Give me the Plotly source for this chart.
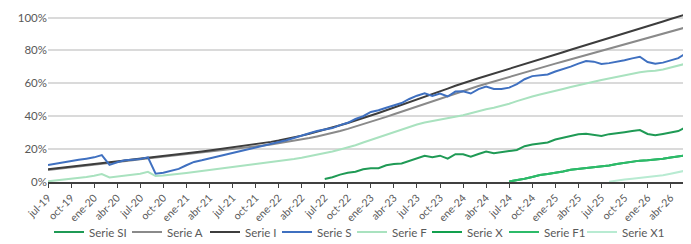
import plotly.graph_objects as go

# Monthly categories jul-19 .. jun-26
meses = ["ene", "feb", "mar", "abr", "may", "jun", "jul", "ago", "sep", "oct", "nov", "dic"]
months = []
y, m = 2019, 6
for _ in range(84):
    months.append(f"{meses[m]}-{str(y)[2:]}")
    m += 1
    if m == 12:
        m = 0
        y += 1
tick_labels = months[::3]

y_ticks = [0, 20, 40, 60, 80, 100]
y_tick_text = [f"{v}%" for v in y_ticks]

serie_i = [7.7, 8.2, 8.8, 9.3, 9.9, 10.4, 11.0, 11.5, 12.0, 12.6, 13.1, 13.7, 14.2, 14.8, 15.3, 15.9,
           16.4, 17.0, 17.5, 18.1, 18.6, 19.2, 19.8, 20.4, 21.0, 21.6, 22.2, 22.9, 23.6, 24.4, 25.2, 26.1,
           27.1, 28.2, 29.4, 30.6, 31.9, 33.2, 34.5, 35.9, 37.3, 38.8, 40.4, 42.0, 43.6, 45.2, 46.9, 48.5,
           50.2, 51.8, 53.5, 55.1, 56.8, 58.5, 60.2, 61.6, 63.1, 64.5, 66.0, 67.4, 68.8, 70.3, 71.7, 73.2,
           74.6, 76.0, 77.5, 78.9, 80.4, 81.8, 83.2, 84.7, 86.1, 87.6, 89.0, 90.4, 91.9, 93.3, 94.8, 96.2,
           97.6, 99.1, 100.5, 102.0]

serie_a = [7.3, 7.8, 8.4, 8.9, 9.4, 10.0, 10.5, 11.1, 11.6, 12.1, 12.7, 13.2, 13.8, 14.3, 14.8, 15.4,
           15.9, 16.4, 17.0, 17.5, 18.0, 18.5, 19.0, 19.5, 20.0, 20.5, 21.0, 21.6, 22.2, 22.8, 23.5, 24.2,
           25.0, 25.8, 26.7, 27.7, 28.7, 29.8, 31.0, 32.3, 33.7, 35.1, 36.6, 38.1, 39.6, 41.2, 42.8, 44.4,
           46.0, 47.6, 49.2, 50.8, 52.4, 54.0, 55.6, 57.0, 58.4, 59.8, 61.2, 62.6, 64.0, 65.4, 66.8, 68.1,
           69.4, 70.7, 72.0, 73.3, 74.6, 75.9, 77.2, 78.5, 79.8, 81.1, 82.4, 83.7, 85.0, 86.3, 87.6, 88.9,
           90.2, 91.5, 92.8, 94.1]

serie_s = [10.3, 11.2, 12.0, 12.8, 13.5, 14.2, 15.0, 16.4, 10.4, 12.0, 13.2, 13.6, 14.0, 15.0, 5.0, 5.6,
           6.6, 8.0, 10.2, 12.2, 13.2, 14.3, 15.3, 16.6, 17.6, 18.6, 19.6, 20.6, 21.8, 23.0, 24.2, 25.4,
           26.8, 28.0, 29.6, 31.0, 32.0, 32.8, 34.6, 36.0, 38.3, 40.0, 42.6, 43.6, 45.2, 46.5, 48.0, 50.5,
           52.5, 54.0, 52.3, 53.8, 52.0, 55.0, 55.2, 53.8, 56.5, 58.0, 56.6, 56.6, 57.4, 59.5, 62.5, 64.4,
           65.0, 65.4, 67.2, 68.5, 70.2, 72.0, 73.6, 73.2, 71.8, 72.3, 73.0, 74.0, 75.2, 76.2, 73.0, 72.0,
           72.6, 74.0, 75.3, 78.4]

serie_f = [0.4, 0.9, 1.3, 1.8, 2.5, 3.1, 3.8, 4.8, 2.8, 3.3, 3.9, 4.4, 5.0, 6.2, 3.6, 3.9,
           4.3, 4.8, 5.5, 6.1, 6.7, 7.3, 7.8, 8.3, 8.8, 9.4, 10.0, 10.6, 11.2, 11.8, 12.5, 13.2,
           14.0, 14.8, 15.7, 16.6, 17.5, 18.6, 19.8, 21.0, 22.4, 24.0, 25.6, 27.2, 28.8, 30.3, 31.8, 33.3,
           35.0, 36.2, 37.0, 38.0, 38.8, 39.8, 40.6, 41.8, 43.2, 44.2, 45.2, 46.3, 47.6, 49.2, 50.8, 52.0,
           53.2, 54.2, 55.4, 56.6, 57.8, 59.0, 60.1, 61.0, 62.0, 63.0, 64.2, 65.0, 66.0, 66.8, 67.4, 67.6,
           68.4, 69.6, 70.6, 72.0]

serie_si = [None] * 36 + [1.8, 2.9, 4.5, 5.6, 6.2, 7.8, 8.3, 8.4, 10.2, 11.0, 11.3, 12.8,
                          14.4, 16.0, 15.0, 16.0, 14.2, 16.9, 16.9, 15.4, 17.0, 18.5, 17.5, 18.0,
                          18.8, 19.5, 21.8, 22.8, 23.4, 24.0, 25.8, 26.8, 27.8, 29.0, 29.3, 28.6,
                          28.0, 29.1, 29.9, 30.3, 31.0, 31.6, 29.2, 28.4, 29.2, 30.2, 31.0, 33.3]

serie_x = [None] * 60 + [0.3, 1.0, 2.0, 3.0, 4.2, 4.8, 5.5, 6.4, 7.4, 7.9, 8.3, 8.7,
                         9.2, 10.0, 11.0, 11.8, 12.4, 13.0, 13.2, 13.5, 14.2, 14.9, 15.4, 16.3]

serie_f1 = [None] * 60 + [0.3, 1.0, 2.0, 3.0, 4.2, 4.8, 5.5, 6.4, 7.4, 7.9, 8.3, 8.7,
                          9.2, 10.0, 11.0, 11.8, 12.4, 13.0, 13.2, 13.5, 14.2, 14.9, 15.4, 16.3]

serie_x1 = [None] * 73 + [0.2, 1.0, 1.5, 2.0, 2.5, 3.0, 3.5, 4.1, 5.0, 5.8, 7.0]

series = [
    ("Serie SI", serie_si, "#1f9a55"),
    ("Serie A", serie_a, "#8a8a8a"),
    ("Serie I", serie_i, "#3d3d3d"),
    ("Serie S", serie_s, "#3f70c0"),
    ("Serie F", serie_f, "#a9e2bf"),
    ("Serie X", serie_x, "#12a04e"),
    ("Serie F1", serie_f1, "#2cbb69"),
    ("Serie X1", serie_x1, "#b8ebd2"),
]

# page body has an 8px margin, so the figure is sized to fit the 691x244 window
W, H = 683, 236
font_family = "Lato, Open Sans, sans-serif"

# legend entry left positions (figure px), one small legend per series
legend_x = [41, 119, 197, 269, 344, 419, 496, 574]

fig = go.Figure()
legend_layout = {}
for k, (name, vals, col) in enumerate(series):
    lg = "legend" if k == 0 else f"legend{k + 1}"
    fig.add_trace(go.Scatter(x=months, y=vals, name=name, mode="lines", legend=lg,
                             line=dict(color=col, width=2), connectgaps=False))
    legend_layout[lg] = dict(orientation="h", x=legend_x[k] / W, xanchor="left", xref="container",
                             y=12.0 / H, yanchor="middle", yref="container",
                             font=dict(size=11.5, color="#595959"), bgcolor="rgba(0,0,0,0)")

fig.update_layout(
    width=W, height=H,
    margin=dict(l=40, r=5, t=3, b=62, autoexpand=False),
    paper_bgcolor="white", plot_bgcolor="white",
    font=dict(family=font_family, color="#595959", size=11),
    showlegend=True,
    **legend_layout,
)
fig.update_xaxes(
    type="category", range=[0, 83], tickvals=tick_labels, ticktext=tick_labels,
    tickangle=-45, tickfont=dict(size=10.5, color="#595959"), automargin=False,
    showgrid=False, showline=True, linecolor="#404040", linewidth=1.5,
    ticks="outside", ticklen=4, tickcolor="#404040", tickwidth=1,
)
fig.update_yaxes(
    range=[0, 104], tickvals=y_ticks, ticktext=y_tick_text, automargin=False,
    tickfont=dict(size=11.5, color="#595959"),
    showgrid=True, gridcolor="#dadada", gridwidth=1.5, zeroline=False,
    showline=False, ticks="",
)

fig.write_html("out.html")
